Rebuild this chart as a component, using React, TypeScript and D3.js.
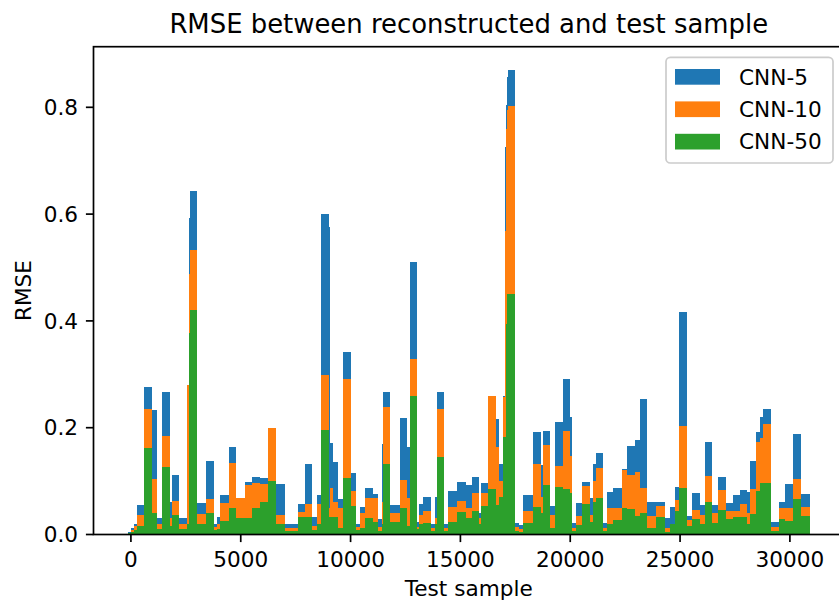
import React from "react";
import * as d3 from "d3";

// Segment boundaries in test-sample units (each bar spans start[i]..start[i+1])
const segmentStart = [
  -150, -10, 120, 260, 580, 940, 1170, 1400, 1760, 1850, 2170, 2540, 2630, 2670, 2990,
  3400, 3770, 3900, 4040, 4450, 4770, 5180, 5500, 5860, 6230, 6590, 7000, 7590, 7910,
  8230, 8460, 8640, 9000, 9050, 9190, 9410, 9640, 10010, 10230, 10420, 10640, 11010,
  11240, 11420, 11460, 11780, 12240, 12560, 12690, 13010, 13100, 13280, 13650, 13830,
  13920, 14240, 14420, 14830, 15240, 15520, 15830, 15930, 16250, 16610, 16750, 16930,
  17020, 17060, 17110, 17160, 17470, 17660, 17840, 18290, 18660, 18750, 19070, 19300,
  19660, 19980, 20070, 20250, 20530, 20890, 21030, 21160, 21480, 21660, 21940, 22350,
  22570, 22940, 23170, 23490, 23900, 24310, 24530, 24760, 24940, 25310, 25540, 25900,
  26130, 26450, 26720, 27080, 27400, 27720, 28040, 28180, 28450, 28630, 28770, 29130,
  29500, 29770, 30130, 30500, 30910,
];

const cnn5 = [
  0.005, 0.012, 0.02, 0.055, 0.276, 0.233, 0.031, 0.267, 0.06, 0.111, 0.03, 0.18, 0.593, 0.644, 0.059,
  0.138, 0.02, 0.033, 0.074, 0.164, 0.04, 0.098, 0.108, 0.106, 0.2, 0.095, 0.02, 0.058, 0.132,
  0.033, 0.074, 0.6, 0.576, 0.171, 0.136, 0.066, 0.342, 0.115, 0.02, 0.052, 0.087, 0.076,
  0.029, 0.17, 0.267, 0.055, 0.218, 0.164, 0.51, 0.023, 0.058, 0.07, 0.02, 0.07,
  0.267, 0.02, 0.082, 0.099, 0.093, 0.108, 0.04, 0.097, 0.26, 0.216, 0.132, 0.26,
  0.726, 0.805, 0.857, 0.87, 0.022, 0.018, 0.074, 0.192, 0.13, 0.194, 0.054, 0.211,
  0.291, 0.22, 0.022, 0.059, 0.099, 0.068, 0.132, 0.153, 0.022, 0.08, 0.087, 0.122,
  0.166, 0.177, 0.254, 0.06, 0.06, 0.03, 0.052, 0.089, 0.417, 0.035, 0.078, 0.055,
  0.173, 0.055, 0.108, 0.059, 0.074, 0.084, 0.08, 0.138, 0.192, 0.22, 0.235, 0.024,
  0.061, 0.095, 0.188, 0.076,
];

const cnn10 = [
  0.003, 0.008, 0.015, 0.037, 0.235, 0.104, 0.02, 0.185, 0.03, 0.063, 0.02, 0.28, 0.488, 0.533, 0.038,
  0.066, 0.014, 0.02, 0.059, 0.134, 0.068, 0.093, 0.097, 0.095, 0.2, 0.037, 0.012, 0.042, 0.058,
  0.015, 0.058, 0.299, 0.05, 0.087, 0.06, 0.05, 0.291, 0.082, 0.014, 0.04, 0.068, 0.068,
  0.014, 0.06, 0.239, 0.04, 0.102, 0.069, 0.329, 0.014, 0.037, 0.044, 0.012, 0.03,
  0.235, 0.012, 0.052, 0.063, 0.05, 0.078, 0.03, 0.078, 0.26, 0.164, 0.1, 0.258,
  0.569, 0.76, 0.795, 0.803, 0.014, 0.01, 0.044, 0.132, 0.07, 0.168, 0.037, 0.129,
  0.194, 0.147, 0.013, 0.035, 0.09, 0.037, 0.1, 0.125, 0.013, 0.05, 0.05, 0.121,
  0.111, 0.117, 0.087, 0.035, 0.053, 0.013, 0.013, 0.065, 0.203, 0.028, 0.046, 0.037,
  0.11, 0.04, 0.084, 0.044, 0.044, 0.058, 0.04, 0.085, 0.173, 0.181, 0.207, 0.014,
  0.05, 0.05, 0.104, 0.052,
];

const cnn50 = [
  0.002, 0.004, 0.008, 0.016, 0.162, 0.04, 0.01, 0.126, 0.015, 0.037, 0.01, 0.02, 0.377, 0.42, 0.02,
  0.04, 0.008, 0.01, 0.025, 0.05, 0.03, 0.03, 0.05, 0.06, 0.1, 0.02, 0.006, 0.033, 0.033,
  0.008, 0.02, 0.196, 0.033, 0.033, 0.033, 0.013, 0.106, 0.054, 0.008, 0.013, 0.031, 0.024,
  0.007, 0.02, 0.132, 0.024, 0.05, 0.015, 0.26, 0.01, 0.02, 0.022, 0.006, 0.02,
  0.145, 0.006, 0.024, 0.043, 0.03, 0.044, 0.02, 0.054, 0.085, 0.055, 0.07, 0.183,
  0.183, 0.394, 0.45, 0.45, 0.006, 0.005, 0.022, 0.052, 0.04, 0.093, 0.013, 0.089,
  0.085, 0.077, 0.006, 0.018, 0.057, 0.023, 0.06, 0.068, 0.007, 0.02, 0.027, 0.05,
  0.048, 0.035, 0.04, 0.013, 0.033, 0.004, 0.02, 0.044, 0.087, 0.015, 0.029, 0.02,
  0.061, 0.022, 0.046, 0.029, 0.033, 0.033, 0.02, 0.039, 0.082, 0.097, 0.097, 0.006,
  0.029, 0.026, 0.066, 0.035,
];

const seriesNames = ["CNN-5", "CNN-10", "CNN-50"];
const seriesValues = [cnn5, cnn10, cnn50];
const colors = ["#1f77b4", "#ff7f0e", "#2ca02c"];
const xTicks = [0, 5000, 10000, 15000, 20000, 25000, 30000];
const yTicks = [0, 0.2, 0.4, 0.6, 0.8];

const W = 839;
const H = 601;
const left = 93.5;
const right = 844;
const top = 46.7;
const bottom = 534.5;
const FONT = "DejaVu Sans, sans-serif";

export default function App() {
  const xMin = d3.min(segmentStart)!;
  const xMax = d3.max(segmentStart)!;
  const xPad = (xMax - xMin) * 0.05;
  const x = d3.scaleLinear().domain([xMin - xPad, xMax + xPad]).range([left, right]);
  const yMax = d3.max(cnn5)! * 1.05;
  const y = d3.scaleLinear().domain([0, yMax]).range([bottom, top]);

  const fmtX = (v: number) => String(v);
  const fmtY = d3.format(".1f");

  return (
    <svg
      width={W}
      height={H}
      style={{ position: "absolute", left: 0, top: 0, background: "#fff" }}
      fontFamily={FONT}
    >
      <rect x={0} y={0} width={W} height={H} fill="#fff" />
      {seriesValues.map((vals, s) => (
        <g key={s} fill={colors[s]} shapeRendering="crispEdges">
          {vals.map((v, i) => {
            const x0 = x(segmentStart[i]);
            const x1 = x(segmentStart[i + 1]);
            return (
              <rect key={i} x={x0} y={y(v)} width={Math.max(0, x1 - x0)} height={y(0) - y(v)} />
            );
          })}
        </g>
      ))}
      {/* spines */}
      <rect x={left} y={top} width={right - left} height={bottom - top} fill="none" stroke="#000" strokeWidth={1.7} />
      {/* x ticks */}
      {xTicks.map((t) => (
        <g key={t} transform={`translate(${x(t)},${bottom})`}>
          <line y1={0} y2={7.6} stroke="#000" strokeWidth={1.7} />
          <text y={32.5} textAnchor="middle" fontSize={21.6} fill="#000">
            {fmtX(t)}
          </text>
        </g>
      ))}
      {/* y ticks */}
      {yTicks.map((t) => (
        <g key={t} transform={`translate(${left},${y(t)})`}>
          <line x1={0} x2={-7.6} stroke="#000" strokeWidth={1.7} />
          <text x={-15.5} dy="0.36em" textAnchor="end" fontSize={21.6} fill="#000">
            {fmtY(t)}
          </text>
        </g>
      ))}
      {/* labels */}
      <text x={(left + right) / 2} y={596} textAnchor="middle" fontSize={21.6} fill="#000">
        Test sample
      </text>
      <text
        transform={`translate(31,${(top + bottom) / 2}) rotate(-90)`}
        textAnchor="middle"
        fontSize={21.6}
        fill="#000"
      >
        RMSE
      </text>
      <text x={(left + right) / 2} y={33} textAnchor="middle" fontSize={25.9} fill="#000">
        RMSE between reconstructed and test sample
      </text>
      {/* legend */}
      <g>
        <rect x={666} y={57.3} width={167} height={105.7} rx={4.3} fill="#fff" fillOpacity={0.8} stroke="#cccccc" strokeWidth={1.7} />
        {seriesNames.map((name, i) => (
          <g key={name} transform={`translate(0,${i * 32.4})`}>
            <rect x={675} y={69} width={45} height={15.7} fill={colors[i]} />
            <text x={739} y={84.7} fontSize={21.6} fill="#000">
              {name}
            </text>
          </g>
        ))}
      </g>
    </svg>
  );
}
